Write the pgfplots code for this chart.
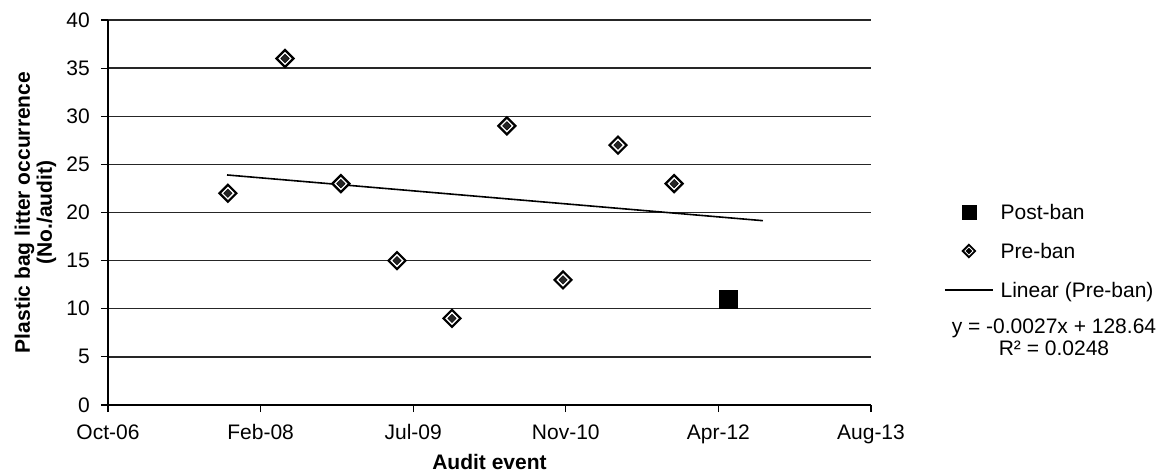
\documentclass[border=0pt]{standalone}
\usepackage{fontspec}
\setmainfont{Liberation Sans}
\usepackage{pgfplots}
\usepackage{pgfplotstable}
\pgfplotsset{compat=1.18}
\newcommand{\chartfont}{\fontsize{21bp}{24bp}\selectfont}
\pgfplotstableread{
x y
39393 22
39580 36
39763 23
39947 15
40127 9
40307 29
40491 13
40671 27
40855 23
}\preban
\pgfplotstableread{
x y
41031 11
}\postban
\pgfplotstableread{
x y
39390 23.9
41146 19.15
}\trend
\begin{document}
\begin{tikzpicture}
\path[use as bounding box] (-108bp,-71bp) rectangle (1057bp,405bp);
\begin{axis}[
  scale only axis, width=763bp, height=385bp,
  xmin=39000, xmax=41500, ymin=0, ymax=40,
  axis lines=left,
  axis line style={-, line width=1.6bp, black},
  clip mode=individual,
  scaled x ticks=false,
  xtick={39000,39500,40000,40500,41000,41500},
  xticklabels={Oct-06,Feb-08,Jul-09,Nov-10,Apr-12,Aug-13},
  ytick={0,5,...,40},
  tick align=outside,
  major tick length=7bp,
  tick style={black, line width=1.2bp},
  ymajorgrids,
  grid style={black!85, line width=1.3bp},
  /pgf/number format/assume math mode=true,
  tick label style={font=\chartfont},
  xticklabel style={anchor=base, inner sep=0pt, yshift=-27bp},
  yticklabel style={anchor=east, inner sep=0pt, xshift=-11bp},
  every axis x label/.style={at={(axis description cs:0.5,-0.1488)}, anchor=center},
  every axis y label/.style={at={(axis description cs:-0.0950,0.5)}, rotate=90, anchor=center},
  xlabel style={font=\chartfont\bfseries},
  ylabel style={font=\fontsize{21bp}{22bp}\selectfont\bfseries, align=center},
  xlabel={Audit event},
  ylabel={Plastic bag litter occurrence\\(No./audit)},
  legend image code/.code={\path (0cm,0cm) (1.7cm,0cm); \draw[mark repeat=2,mark phase=2,#1] plot coordinates {(0cm,0cm) (0.85cm,0cm) (1.7cm,0cm)};},
  legend style={at={(axis description cs:1.0957,0.4)}, anchor=west, draw=none, fill=none,
    inner sep=0pt, outer sep=0pt, row sep=23.5bp, font=\chartfont,
    nodes={inner sep=0pt, outer sep=0pt, text depth=0pt},
    /tikz/every odd column/.append style={column sep=6.8bp}},
  legend cell align=left,
]
\addplot[forget plot, black, line width=1.6bp] table {\trend};
\addplot[only marks, mark=square*, mark size=9bp, black,
  legend image post style={mark size=7bp}] table {\postban};
\addlegendentry{Post-ban}
\addplot[only marks, mark=square*, mark size=6bp,
  mark options={rotate=45, fill=white, draw=black, line width=2.2bp},
  legend image code/.code={\path (0cm,0cm) (1.7cm,0cm);
    \draw[only marks, mark=square*, mark size=4.4bp, mark options={rotate=45, fill=white, draw=black, line width=1.9bp}] plot coordinates {(0.85cm,0cm)};
    \draw[only marks, mark=square*, mark size=2.1bp, mark options={rotate=45, fill=black, draw=none}] plot coordinates {(0.85cm,0cm)};}
  ] table {\preban};
\addlegendentry{Pre-ban}
\addplot[forget plot, only marks, mark=square*, mark size=3bp,
  mark options={rotate=45, fill=black!85, draw=none}] table {\preban};
\addlegendimage{black, line width=1.6bp}
\addlegendentry{Linear (Pre-ban)}
\node[align=center, font=\fontsize{21bp}{22bp}\selectfont] at (axis description cs:1.2398,0.1766) {y = -0.0027x + 128.64\\R² = 0.0248};
\end{axis}
\end{tikzpicture}
\end{document}
